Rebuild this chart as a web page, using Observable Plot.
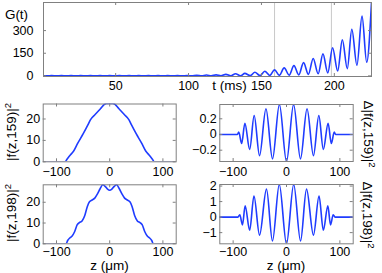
<!DOCTYPE html>
<html><head><meta charset="utf-8">
<script src="https://cdn.jsdelivr.net/npm/d3@7"></script>
<script src="https://cdn.jsdelivr.net/npm/@observablehq/plot@0.6"></script>
<style>
body{margin:0;background:#fff;}
#chart{position:relative;width:382px;height:273px;font-family:"Liberation Sans",Arial,sans-serif;color:#000;overflow:hidden;background:#fff}
#chart svg{position:absolute;left:0;top:0;background:none}
.lab{position:absolute;font-size:13.5px;white-space:nowrap;line-height:1;transform:translate(-50%,-50%)}
.lab.rl{transform:translate(-50%,-50%) rotate(-90deg)}
.lab.rr{transform:translate(-50%,-50%) rotate(90deg)}
.lab sup{font-size:9.5px;vertical-align:5px;line-height:0}
</style></head><body><div id="chart"></div>
<script>
// ---- data ----
const gT = [0.5,2.8,6.1,9.5,12.8,16.1,19.4,22.7,26.0,29.4,32.7,36.0,39.3,42.6,45.9,49.3,52.6,55.9,59.2,62.5,65.8,69.2,72.5,75.8,79.1,82.4,85.7,89.1,92.4,95.7,99.0,102.3,105.6,109.0,112.3,115.6,118.9,122.2,125.6,129.0,132.2,135.7,138.6,142.3,145.5,149.0,152.3,155.7,159.0,162.3,165.6,169.0,172.3,175.6,178.9,182.2,185.5,188.9,192.2,195.5,198.8,202.3,205.5,208.9,212.0,215.5,219.0,222.2,225.5];
const gV = [1,0,2,0,2,0,2,0,2,0,2,0,2,0,2,0,2,0,2,0,2,0,2,0,2,0,2,0,2.5,0,3,0,4,0,5.5,0.5,7,0.5,10,1,14,1,17,2,24,2,31,3,40,4,53,5,68,7,88,10,115,14,146,20,186,32,239,48,309,70,396,90,486];
const markT = [159, 198];

const z159 = [-125,-84,-80,-74,-68,-60,-50,-41,-36,-27,-17,-10,-6,0,6,10,17,27,36,41,50,60,68,74,80,84,125];
const f159 = [0,0,1.3,3.2,4.9,8.7,13,17.2,19.7,22.2,24.9,26.8,27.3,27.3,27.3,26.8,24.9,22.2,19.7,17.2,13,8.7,4.9,3.2,1.3,0,0];

const zd159 = [-125,-92,-89.5,-84,-78,-69,-60.6,-50.5,-38.5,-26.2,-13.3,0,13.3,26.2,38.5,50.5,60.6,69,78,84,89.5,92,125];
const d159 = [0,0,0.03,-0.115,0.142,-0.19,0.242,-0.27,0.327,-0.31,0.382,-0.344,0.382,-0.31,0.327,-0.27,0.242,-0.19,0.142,-0.115,0.03,0,0];

const z198 = [-125,-82,-79,-75,-71,-66,-61,-57,-52,-47,-42,-38,-33,-28,-23,-18,-13,-8,-4,0,4,8,13,18,23,28,33,38,42,47,52,57,61,66,71,75,79,82,125];
const f198 = [0,0,1.6,2.8,3.6,5.8,9.2,10.2,11,13.5,18,20.3,21.1,22,24,26.5,28.4,27.5,26.3,25.8,26.3,27.5,28.4,26.5,24,22,21.1,20.3,18,13.5,11,10.2,9.2,5.8,3.6,2.8,1.6,0,0];

const zd198 = [-125,-91,-87.5,-82.5,-77.5,-69,-61,-50.5,-37.5,-26.3,-13.5,0,13.5,26.3,37.5,50.5,61,69,77.5,82.5,87.5,91,125];
const d198 = [0,0,0.15,-0.5,0.72,-0.85,1.36,-1.16,1.8,-1.54,2.1,-1.72,2.1,-1.54,1.8,-1.16,1.36,-0.85,0.72,-0.5,0.15,0,0];

const tTicks = [50,100,150,200], gTicks = [0,150,300];
const zTicks = [-100,0,100];
const fTicks = [0,10,20], d159Ticks = [-0.2,0,0.2], d198Ticks = [-1,0,1,2];

// ---- drawing ----
const W = 382, H = 273;
const blue = "#1f3cff", frameC = "#808080";
const fmt = d => (d < 0 ? "\u2212" : "") + Math.abs(d);
const pts = (xs, ys) => xs.map((x, i) => ({x, y: ys[i]}));

function panel({box, xDomain, yDomain, xTicks, yTicks, data, xPad, yPad, extra = []}) {
  const [l, r, t, b] = box, fw = r - l, fh = b - t, tk = 3;
  return Plot.plot({
    width: W, height: H,
    marginLeft: l, marginRight: W - r, marginTop: t, marginBottom: H - b,
    style: {fontFamily: '"Liberation Sans", Arial, sans-serif', fontSize: "12.5px", background: "none", overflow: "visible"},
    x: {domain: xDomain, axis: null, label: null},
    y: {domain: yDomain, axis: null, label: null},
    marks: [
      ...extra,
      Plot.line(data, {x: "x", y: "y", stroke: blue, strokeWidth: 1.6, curve: "monotone-x", clip: true}),
      Plot.tickX(xTicks, {x: d => d, insetTop: fh - tk, stroke: frameC}),
      Plot.tickX(xTicks, {x: d => d, insetBottom: fh - tk, stroke: frameC}),
      Plot.tickY(yTicks, {y: d => d, insetRight: fw - tk, stroke: frameC}),
      Plot.tickY(yTicks, {y: d => d, insetLeft: fw - tk, stroke: frameC}),
      Plot.frame({stroke: frameC}),
      Plot.axisX({ticks: xTicks, tickSize: 0, tickPadding: xPad, tickFormat: fmt, label: null}),
      Plot.axisY({ticks: yTicks, tickSize: 0, tickPadding: yPad, tickFormat: fmt, label: null})
    ]
  });
}

const chart = document.getElementById("chart");
chart.append(panel({
  box: [43, 371, 2, 76], xDomain: [0.5, 225.5], yDomain: [-4, 486],
  xTicks: tTicks, yTicks: gTicks, data: pts(gT, gV), xPad: 5, yPad: 10,
  extra: [Plot.ruleX(markT, {x: d => d, stroke: "#c8c8c8", strokeWidth: 1})]
}));
chart.append(panel({
  box: [42.7, 175.7, 103.5, 161.3], xDomain: [-125, 125], yDomain: [0, 27],
  xTicks: zTicks, yTicks: fTicks, data: pts(z159, f159), xPad: 5.5, yPad: 3
}));
chart.append(panel({
  box: [219.3, 352.7, 104, 161], xDomain: [-125, 125], yDomain: [-0.344, 0.382],
  xTicks: zTicks, yTicks: d159Ticks, data: pts(zd159, d159), xPad: 5.5, yPad: 3
}));
chart.append(panel({
  box: [42.7, 175.7, 184.3, 243.3], xDomain: [-125, 125], yDomain: [0, 28.4],
  xTicks: zTicks, yTicks: fTicks, data: pts(z198, f198), xPad: 3, yPad: 3
}));
chart.append(panel({
  box: [219.3, 352.7, 184, 243.3], xDomain: [-125, 125], yDomain: [-1.72, 2.1],
  xTicks: zTicks, yTicks: d198Ticks, data: pts(zd198, d198), xPad: 3, yPad: 3
}));

const labels = [
  {html: "G(t)", x: 16.5, y: 14.5, cls: ""},
  {html: "t (ms)", x: 229.5, y: 86, cls: ""},
  {html: "|f(z,159)|<sup>2</sup>", x: 12, y: 132, cls: "rl"},
  {html: "|f(z,198)|<sup>2</sup>", x: 11.5, y: 213, cls: "rl"},
  {html: "\u0394|f(z,159)|<sup>2</sup>", x: 368, y: 134, cls: "rr"},
  {html: "\u0394|f(z,198)|<sup>2</sup>", x: 367, y: 215, cls: "rr"},
  {html: "z (\u03bcm)", x: 109.5, y: 265.5, cls: ""},
  {html: "z (\u03bcm)", x: 286, y: 265.5, cls: ""}
];
for (const L of labels) {
  const d = document.createElement("div");
  d.className = "lab " + L.cls;
  d.style.left = L.x + "px";
  d.style.top = L.y + "px";
  d.innerHTML = L.html;
  chart.append(d);
}
</script></body></html>
